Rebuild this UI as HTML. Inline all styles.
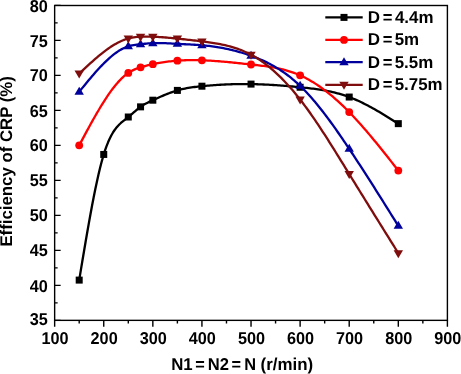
<!DOCTYPE html>
<html><head><meta charset="utf-8"><title>Efficiency of CRP</title>
<style>
html,body{margin:0;padding:0;background:#fff;}
svg{display:block;will-change:transform;}
text{font-family:"Liberation Sans",Arial,Helvetica,sans-serif;font-weight:bold;fill:#000;text-rendering:geometricPrecision;}
</style></head><body>
<svg width="461" height="374" viewBox="0 0 461 374">
<rect width="461" height="374" fill="#fff"/>
<path d="M79.20,280.10 L80.80,270.42 L82.40,260.77 L84.01,251.20 L85.61,241.74 L87.21,232.44 L88.82,223.33 L90.42,214.44 L92.03,205.82 L93.63,197.50 L95.23,189.52 L96.84,181.93 L98.44,174.75 L100.04,168.02 L101.65,161.79 L103.25,156.09 L104.85,150.96 L106.46,146.37 L108.06,142.30 L109.66,138.69 L111.27,135.51 L112.87,132.71 L114.48,130.25 L116.08,128.09 L117.68,126.19 L119.29,124.50 L120.89,122.98 L122.49,121.59 L124.10,120.29 L125.70,119.04 L127.30,117.79 L128.91,116.50 L130.51,115.15 L132.11,113.78 L133.72,112.39 L135.32,111.01 L136.93,109.66 L138.53,108.37 L140.13,107.16 L141.74,106.04 L143.34,105.02 L144.94,104.09 L146.55,103.22 L148.15,102.40 L149.75,101.63 L151.36,100.88 L152.96,100.14 L154.56,99.41 L156.17,98.68 L157.77,97.96 L159.38,97.25 L160.98,96.54 L162.58,95.85 L164.19,95.17 L165.79,94.51 L167.39,93.86 L169.00,93.24 L170.60,92.64 L172.20,92.06 L173.81,91.51 L175.41,91.00 L177.01,90.51 L178.62,90.05 L180.22,89.63 L181.83,89.24 L183.43,88.88 L185.03,88.55 L186.64,88.24 L188.24,87.95 L189.84,87.69 L191.45,87.44 L193.05,87.22 L194.65,87.01 L196.26,86.81 L197.86,86.63 L199.46,86.45 L201.07,86.29 L202.67,86.13 L204.27,85.97 L205.88,85.83 L207.48,85.69 L209.09,85.55 L210.69,85.42 L212.29,85.29 L213.90,85.18 L215.50,85.06 L217.10,84.96 L218.71,84.85 L220.31,84.76 L221.91,84.67 L223.52,84.59 L225.12,84.51 L226.72,84.44 L228.33,84.37 L229.93,84.31 L231.54,84.26 L233.14,84.21 L234.74,84.17 L236.35,84.13 L237.95,84.10 L239.55,84.08 L241.16,84.07 L242.76,84.05 L244.36,84.05 L245.97,84.05 L247.57,84.06 L249.17,84.08 L250.78,84.10 L252.38,84.12 L253.99,84.16 L255.59,84.20 L257.19,84.24 L258.80,84.29 L260.40,84.35 L262.00,84.41 L263.61,84.48 L265.21,84.56 L266.81,84.64 L268.42,84.72 L270.02,84.81 L271.62,84.90 L273.23,85.00 L274.83,85.11 L276.44,85.21 L278.04,85.33 L279.64,85.44 L281.25,85.56 L282.85,85.69 L284.45,85.82 L286.06,85.95 L287.66,86.09 L289.26,86.23 L290.87,86.37 L292.47,86.51 L294.07,86.66 L295.68,86.81 L297.28,86.97 L298.89,87.13 L300.49,87.29 L302.09,87.45 L303.70,87.62 L305.30,87.79 L306.90,87.96 L308.51,88.14 L310.11,88.33 L311.71,88.53 L313.32,88.73 L314.92,88.94 L316.52,89.16 L318.13,89.40 L319.73,89.64 L321.34,89.89 L322.94,90.16 L324.54,90.44 L326.15,90.74 L327.75,91.05 L329.35,91.38 L330.96,91.72 L332.56,92.08 L334.16,92.46 L335.77,92.86 L337.37,93.28 L338.97,93.72 L340.58,94.18 L342.18,94.66 L343.79,95.16 L345.39,95.69 L346.99,96.24 L348.60,96.82 L350.20,97.42 L351.80,98.05 L353.41,98.71 L355.01,99.39 L356.61,100.09 L358.22,100.81 L359.82,101.56 L361.42,102.32 L363.03,103.11 L364.63,103.91 L366.23,104.74 L367.84,105.58 L369.44,106.43 L371.05,107.30 L372.65,108.19 L374.25,109.09 L375.86,110.00 L377.46,110.93 L379.06,111.86 L380.67,112.81 L382.27,113.76 L383.87,114.73 L385.48,115.70 L387.08,116.68 L388.68,117.66 L390.29,118.65 L391.89,119.65 L393.50,120.65 L395.10,121.65 L396.70,122.65 L398.31,123.65" fill="none" stroke="#000000" stroke-width="2.3" stroke-linejoin="round"/>
<rect x="75.70" y="276.60" width="7.0" height="7.0" fill="#000000"/>
<rect x="100.24" y="150.95" width="7.0" height="7.0" fill="#000000"/>
<rect x="124.79" y="113.50" width="7.0" height="7.0" fill="#000000"/>
<rect x="137.06" y="103.35" width="7.0" height="7.0" fill="#000000"/>
<rect x="149.34" y="96.70" width="7.0" height="7.0" fill="#000000"/>
<rect x="173.88" y="86.90" width="7.0" height="7.0" fill="#000000"/>
<rect x="198.43" y="82.70" width="7.0" height="7.0" fill="#000000"/>
<rect x="247.53" y="80.60" width="7.0" height="7.0" fill="#000000"/>
<rect x="296.62" y="83.75" width="7.0" height="7.0" fill="#000000"/>
<rect x="345.71" y="93.55" width="7.0" height="7.0" fill="#000000"/>
<rect x="394.81" y="120.15" width="7.0" height="7.0" fill="#000000"/>
<path d="M79.20,145.35 L80.80,142.34 L82.40,139.34 L84.01,136.35 L85.61,133.37 L87.21,130.40 L88.82,127.46 L90.42,124.54 L92.03,121.65 L93.63,118.79 L95.23,115.97 L96.84,113.19 L98.44,110.46 L100.04,107.77 L101.65,105.14 L103.25,102.56 L104.85,100.05 L106.46,97.60 L108.06,95.22 L109.66,92.91 L111.27,90.69 L112.87,88.54 L114.48,86.48 L116.08,84.51 L117.68,82.64 L119.29,80.86 L120.89,79.19 L122.49,77.62 L124.10,76.16 L125.70,74.82 L127.30,73.59 L128.91,72.49 L130.51,71.51 L132.11,70.64 L133.72,69.86 L135.32,69.16 L136.93,68.53 L138.53,67.96 L140.13,67.44 L141.74,66.94 L143.34,66.47 L144.94,66.03 L146.55,65.61 L148.15,65.21 L149.75,64.83 L151.36,64.47 L152.96,64.12 L154.56,63.79 L156.17,63.48 L157.77,63.17 L159.38,62.89 L160.98,62.61 L162.58,62.35 L164.19,62.11 L165.79,61.88 L167.39,61.67 L169.00,61.46 L170.60,61.28 L172.20,61.11 L173.81,60.95 L175.41,60.81 L177.01,60.68 L178.62,60.56 L180.22,60.46 L181.83,60.38 L183.43,60.31 L185.03,60.25 L186.64,60.20 L188.24,60.16 L189.84,60.14 L191.45,60.13 L193.05,60.13 L194.65,60.14 L196.26,60.16 L197.86,60.19 L199.46,60.22 L201.07,60.27 L202.67,60.33 L204.27,60.39 L205.88,60.46 L207.48,60.54 L209.09,60.62 L210.69,60.72 L212.29,60.81 L213.90,60.92 L215.50,61.03 L217.10,61.15 L218.71,61.27 L220.31,61.40 L221.91,61.53 L223.52,61.67 L225.12,61.81 L226.72,61.96 L228.33,62.11 L229.93,62.26 L231.54,62.42 L233.14,62.58 L234.74,62.74 L236.35,62.91 L237.95,63.08 L239.55,63.25 L241.16,63.42 L242.76,63.59 L244.36,63.77 L245.97,63.94 L247.57,64.12 L249.17,64.30 L250.78,64.47 L252.38,64.65 L253.99,64.83 L255.59,65.01 L257.19,65.19 L258.80,65.38 L260.40,65.57 L262.00,65.77 L263.61,65.98 L265.21,66.19 L266.81,66.42 L268.42,66.66 L270.02,66.91 L271.62,67.17 L273.23,67.45 L274.83,67.74 L276.44,68.05 L278.04,68.38 L279.64,68.73 L281.25,69.10 L282.85,69.49 L284.45,69.90 L286.06,70.33 L287.66,70.79 L289.26,71.28 L290.87,71.79 L292.47,72.34 L294.07,72.91 L295.68,73.51 L297.28,74.15 L298.89,74.81 L300.49,75.51 L302.09,76.25 L303.70,77.02 L305.30,77.83 L306.90,78.67 L308.51,79.54 L310.11,80.45 L311.71,81.39 L313.32,82.36 L314.92,83.36 L316.52,84.40 L318.13,85.47 L319.73,86.57 L321.34,87.70 L322.94,88.87 L324.54,90.06 L326.15,91.29 L327.75,92.54 L329.35,93.82 L330.96,95.14 L332.56,96.48 L334.16,97.86 L335.77,99.26 L337.37,100.69 L338.97,102.15 L340.58,103.63 L342.18,105.15 L343.79,106.69 L345.39,108.25 L346.99,109.85 L348.60,111.47 L350.20,113.12 L351.80,114.79 L353.41,116.49 L355.01,118.21 L356.61,119.95 L358.22,121.72 L359.82,123.50 L361.42,125.31 L363.03,127.14 L364.63,128.98 L366.23,130.85 L367.84,132.73 L369.44,134.62 L371.05,136.54 L372.65,138.46 L374.25,140.40 L375.86,142.35 L377.46,144.32 L379.06,146.29 L380.67,148.28 L382.27,150.27 L383.87,152.28 L385.48,154.29 L387.08,156.31 L388.68,158.33 L390.29,160.36 L391.89,162.39 L393.50,164.43 L395.10,166.47 L396.70,168.51 L398.31,170.55" fill="none" stroke="#ff0000" stroke-width="2.3" stroke-linejoin="round"/>
<circle cx="79.20" cy="145.35" r="3.9" fill="#ff0000"/>
<circle cx="128.29" cy="72.90" r="3.9" fill="#ff0000"/>
<circle cx="140.56" cy="67.30" r="3.9" fill="#ff0000"/>
<circle cx="152.84" cy="64.15" r="3.9" fill="#ff0000"/>
<circle cx="177.38" cy="60.65" r="3.9" fill="#ff0000"/>
<circle cx="201.93" cy="60.30" r="3.9" fill="#ff0000"/>
<circle cx="251.03" cy="64.50" r="3.9" fill="#ff0000"/>
<circle cx="300.12" cy="75.35" r="3.9" fill="#ff0000"/>
<circle cx="349.21" cy="112.10" r="3.9" fill="#ff0000"/>
<circle cx="398.31" cy="170.55" r="3.9" fill="#ff0000"/>
<path d="M79.20,91.80 L80.80,89.83 L82.40,87.86 L84.01,85.90 L85.61,83.94 L87.21,82.00 L88.82,80.08 L90.42,78.17 L92.03,76.28 L93.63,74.42 L95.23,72.59 L96.84,70.79 L98.44,69.02 L100.04,67.30 L101.65,65.61 L103.25,63.96 L104.85,62.36 L106.46,60.81 L108.06,59.32 L109.66,57.88 L111.27,56.50 L112.87,55.18 L114.48,53.93 L116.08,52.74 L117.68,51.63 L119.29,50.59 L120.89,49.63 L122.49,48.75 L124.10,47.96 L125.70,47.25 L127.30,46.63 L128.91,46.11 L130.51,45.68 L132.11,45.32 L133.72,45.03 L135.32,44.78 L136.93,44.58 L138.53,44.41 L140.13,44.24 L141.74,44.08 L143.34,43.92 L144.94,43.76 L146.55,43.61 L148.15,43.46 L149.75,43.34 L151.36,43.23 L152.96,43.14 L154.56,43.08 L156.17,43.05 L157.77,43.03 L159.38,43.04 L160.98,43.06 L162.58,43.10 L164.19,43.15 L165.79,43.22 L167.39,43.29 L169.00,43.37 L170.60,43.46 L172.20,43.55 L173.81,43.65 L175.41,43.74 L177.01,43.83 L178.62,43.92 L180.22,44.00 L181.83,44.08 L183.43,44.15 L185.03,44.23 L186.64,44.31 L188.24,44.38 L189.84,44.46 L191.45,44.55 L193.05,44.63 L194.65,44.73 L196.26,44.83 L197.86,44.93 L199.46,45.05 L201.07,45.18 L202.67,45.31 L204.27,45.46 L205.88,45.62 L207.48,45.80 L209.09,45.98 L210.69,46.18 L212.29,46.39 L213.90,46.61 L215.50,46.85 L217.10,47.10 L218.71,47.36 L220.31,47.63 L221.91,47.92 L223.52,48.23 L225.12,48.54 L226.72,48.87 L228.33,49.22 L229.93,49.58 L231.54,49.95 L233.14,50.34 L234.74,50.75 L236.35,51.17 L237.95,51.60 L239.55,52.05 L241.16,52.52 L242.76,53.00 L244.36,53.50 L245.97,54.02 L247.57,54.55 L249.17,55.10 L250.78,55.66 L252.38,56.24 L253.99,56.84 L255.59,57.46 L257.19,58.10 L258.80,58.76 L260.40,59.44 L262.00,60.14 L263.61,60.87 L265.21,61.62 L266.81,62.40 L268.42,63.20 L270.02,64.03 L271.62,64.89 L273.23,65.78 L274.83,66.69 L276.44,67.64 L278.04,68.62 L279.64,69.63 L281.25,70.68 L282.85,71.76 L284.45,72.88 L286.06,74.03 L287.66,75.22 L289.26,76.45 L290.87,77.72 L292.47,79.03 L294.07,80.38 L295.68,81.77 L297.28,83.20 L298.89,84.68 L300.49,86.21 L302.09,87.77 L303.70,89.39 L305.30,91.04 L306.90,92.74 L308.51,94.48 L310.11,96.26 L311.71,98.08 L313.32,99.93 L314.92,101.82 L316.52,103.75 L318.13,105.71 L319.73,107.70 L321.34,109.73 L322.94,111.79 L324.54,113.87 L326.15,115.98 L327.75,118.13 L329.35,120.29 L330.96,122.49 L332.56,124.70 L334.16,126.94 L335.77,129.20 L337.37,131.48 L338.97,133.78 L340.58,136.10 L342.18,138.44 L343.79,140.79 L345.39,143.15 L346.99,145.53 L348.60,147.93 L350.20,150.33 L351.80,152.75 L353.41,155.17 L355.01,157.61 L356.61,160.05 L358.22,162.51 L359.82,164.97 L361.42,167.44 L363.03,169.92 L364.63,172.41 L366.23,174.91 L367.84,177.41 L369.44,179.92 L371.05,182.43 L372.65,184.96 L374.25,187.48 L375.86,190.02 L377.46,192.56 L379.06,195.10 L380.67,197.65 L382.27,200.20 L383.87,202.75 L385.48,205.31 L387.08,207.87 L388.68,210.44 L390.29,213.00 L391.89,215.57 L393.50,218.14 L395.10,220.71 L396.70,223.28 L398.31,225.85" fill="none" stroke="#00009c" stroke-width="2.3" stroke-linejoin="round"/>
<polygon points="79.20,86.80 74.50,94.80 83.90,94.80" fill="#00009c"/>
<polygon points="128.29,41.30 123.59,49.30 132.99,49.30" fill="#00009c"/>
<polygon points="140.56,39.20 135.86,47.20 145.26,47.20" fill="#00009c"/>
<polygon points="152.84,38.15 148.14,46.15 157.54,46.15" fill="#00009c"/>
<polygon points="177.38,38.85 172.68,46.85 182.08,46.85" fill="#00009c"/>
<polygon points="201.93,40.25 197.23,48.25 206.63,48.25" fill="#00009c"/>
<polygon points="251.03,50.75 246.33,58.75 255.72,58.75" fill="#00009c"/>
<polygon points="300.12,80.85 295.42,88.85 304.82,88.85" fill="#00009c"/>
<polygon points="349.21,143.85 344.51,151.85 353.91,151.85" fill="#00009c"/>
<polygon points="398.31,220.85 393.61,228.85 403.01,228.85" fill="#00009c"/>
<path d="M79.20,73.60 L80.80,72.10 L82.40,70.60 L84.01,69.10 L85.61,67.61 L87.21,66.13 L88.82,64.66 L90.42,63.21 L92.03,61.77 L93.63,60.35 L95.23,58.95 L96.84,57.57 L98.44,56.22 L100.04,54.89 L101.65,53.60 L103.25,52.34 L104.85,51.11 L106.46,49.91 L108.06,48.76 L109.66,47.64 L111.27,46.57 L112.87,45.55 L114.48,44.57 L116.08,43.64 L117.68,42.77 L119.29,41.95 L120.89,41.18 L122.49,40.48 L124.10,39.84 L125.70,39.26 L127.30,38.74 L128.91,38.30 L130.51,37.92 L132.11,37.60 L133.72,37.34 L135.32,37.13 L136.93,36.96 L138.53,36.83 L140.13,36.73 L141.74,36.66 L143.34,36.61 L144.94,36.59 L146.55,36.58 L148.15,36.59 L149.75,36.62 L151.36,36.66 L152.96,36.71 L154.56,36.78 L156.17,36.86 L157.77,36.95 L159.38,37.04 L160.98,37.15 L162.58,37.26 L164.19,37.38 L165.79,37.51 L167.39,37.65 L169.00,37.79 L170.60,37.93 L172.20,38.09 L173.81,38.24 L175.41,38.40 L177.01,38.56 L178.62,38.73 L180.22,38.89 L181.83,39.06 L183.43,39.24 L185.03,39.41 L186.64,39.59 L188.24,39.77 L189.84,39.95 L191.45,40.13 L193.05,40.32 L194.65,40.51 L196.26,40.70 L197.86,40.89 L199.46,41.09 L201.07,41.29 L202.67,41.49 L204.27,41.70 L205.88,41.91 L207.48,42.12 L209.09,42.35 L210.69,42.58 L212.29,42.82 L213.90,43.07 L215.50,43.33 L217.10,43.61 L218.71,43.90 L220.31,44.20 L221.91,44.52 L223.52,44.86 L225.12,45.22 L226.72,45.60 L228.33,46.00 L229.93,46.42 L231.54,46.87 L233.14,47.34 L234.74,47.84 L236.35,48.37 L237.95,48.93 L239.55,49.51 L241.16,50.13 L242.76,50.78 L244.36,51.47 L245.97,52.19 L247.57,52.94 L249.17,53.74 L250.78,54.57 L252.38,55.44 L253.99,56.35 L255.59,57.31 L257.19,58.30 L258.80,59.33 L260.40,60.40 L262.00,61.52 L263.61,62.67 L265.21,63.86 L266.81,65.09 L268.42,66.36 L270.02,67.67 L271.62,69.02 L273.23,70.41 L274.83,71.84 L276.44,73.31 L278.04,74.81 L279.64,76.36 L281.25,77.94 L282.85,79.57 L284.45,81.23 L286.06,82.93 L287.66,84.67 L289.26,86.45 L290.87,88.27 L292.47,90.12 L294.07,92.02 L295.68,93.95 L297.28,95.92 L298.89,97.93 L300.49,99.98 L302.09,102.06 L303.70,104.18 L305.30,106.34 L306.90,108.53 L308.51,110.75 L310.11,113.01 L311.71,115.29 L313.32,117.60 L314.92,119.94 L316.52,122.31 L318.13,124.70 L319.73,127.11 L321.34,129.55 L322.94,132.01 L324.54,134.48 L326.15,136.98 L327.75,139.49 L329.35,142.01 L330.96,144.55 L332.56,147.11 L334.16,149.67 L335.77,152.25 L337.37,154.83 L338.97,157.42 L340.58,160.02 L342.18,162.62 L343.79,165.22 L345.39,167.83 L346.99,170.44 L348.60,173.05 L350.20,175.65 L351.80,178.26 L353.41,180.86 L355.01,183.46 L356.61,186.06 L358.22,188.65 L359.82,191.25 L361.42,193.84 L363.03,196.43 L364.63,199.02 L366.23,201.61 L367.84,204.19 L369.44,206.78 L371.05,209.36 L372.65,211.94 L374.25,214.53 L375.86,217.11 L377.46,219.68 L379.06,222.26 L380.67,224.84 L382.27,227.42 L383.87,229.99 L385.48,232.57 L387.08,235.14 L388.68,237.71 L390.29,240.29 L391.89,242.86 L393.50,245.43 L395.10,248.01 L396.70,250.58 L398.31,253.15" fill="none" stroke="#7f0d0d" stroke-width="2.3" stroke-linejoin="round"/>
<polygon points="79.20,78.60 74.50,70.60 83.90,70.60" fill="#7f0d0d"/>
<polygon points="128.29,43.46 123.59,35.46 132.99,35.46" fill="#7f0d0d"/>
<polygon points="140.56,41.71 135.86,33.71 145.26,33.71" fill="#7f0d0d"/>
<polygon points="152.84,41.71 148.14,33.71 157.54,33.71" fill="#7f0d0d"/>
<polygon points="177.38,43.60 172.68,35.60 182.08,35.60" fill="#7f0d0d"/>
<polygon points="201.93,46.40 197.23,38.40 206.63,38.40" fill="#7f0d0d"/>
<polygon points="251.03,59.70 246.33,51.70 255.72,51.70" fill="#7f0d0d"/>
<polygon points="300.12,104.50 295.42,96.50 304.82,96.50" fill="#7f0d0d"/>
<polygon points="349.21,179.05 344.51,171.05 353.91,171.05" fill="#7f0d0d"/>
<polygon points="398.31,258.15 393.61,250.15 403.01,250.15" fill="#7f0d0d"/>
<rect x="54.65" y="5.5" width="392.75" height="314.85" fill="none" stroke="#000" stroke-width="1.4"/>
<path d="M54.65,320.35 v6.3 M79.20,320.35 v3.2 M103.74,320.35 v6.3 M128.29,320.35 v3.2 M152.84,320.35 v6.3 M177.38,320.35 v3.2 M201.93,320.35 v6.3 M226.48,320.35 v3.2 M251.03,320.35 v6.3 M275.57,320.35 v3.2 M300.12,320.35 v6.3 M324.67,320.35 v3.2 M349.21,320.35 v6.3 M373.76,320.35 v3.2 M398.31,320.35 v6.3 M422.85,320.35 v3.2 M447.40,320.35 v6.3 M54.65,320.35 h6 M54.65,302.85 h3 M54.65,285.35 h6 M54.65,267.85 h3 M54.65,250.35 h6 M54.65,232.85 h3 M54.65,215.35 h6 M54.65,197.85 h3 M54.65,180.35 h6 M54.65,162.85 h3 M54.65,145.35 h6 M54.65,127.85 h3 M54.65,110.35 h6 M54.65,92.85 h3 M54.65,75.35 h6 M54.65,57.85 h3 M54.65,40.35 h6 M54.65,22.85 h3 M54.65,5.35 h6" stroke="#000" stroke-width="1.4" fill="none"/>
<text transform="translate(55.05,343.80) scale(0.9450,1)" font-size="17.2" text-anchor="middle">100</text>
<text transform="translate(104.14,343.80) scale(0.9450,1)" font-size="17.2" text-anchor="middle">200</text>
<text transform="translate(153.24,343.80) scale(0.9450,1)" font-size="17.2" text-anchor="middle">300</text>
<text transform="translate(202.33,343.80) scale(0.9450,1)" font-size="17.2" text-anchor="middle">400</text>
<text transform="translate(251.43,343.80) scale(0.9450,1)" font-size="17.2" text-anchor="middle">500</text>
<text transform="translate(300.52,343.80) scale(0.9450,1)" font-size="17.2" text-anchor="middle">600</text>
<text transform="translate(349.61,343.80) scale(0.9450,1)" font-size="17.2" text-anchor="middle">700</text>
<text transform="translate(398.71,343.80) scale(0.9450,1)" font-size="17.2" text-anchor="middle">800</text>
<text transform="translate(447.80,343.80) scale(0.9450,1)" font-size="17.2" text-anchor="middle">900</text>
<text transform="translate(47.90,325.35) scale(0.9450,1)" font-size="17.2" text-anchor="end">35</text>
<text transform="translate(47.90,291.55) scale(0.9450,1)" font-size="17.2" text-anchor="end">40</text>
<text transform="translate(47.90,256.15) scale(0.9450,1)" font-size="17.2" text-anchor="end">45</text>
<text transform="translate(47.90,221.15) scale(0.9450,1)" font-size="17.2" text-anchor="end">50</text>
<text transform="translate(47.90,186.15) scale(0.9450,1)" font-size="17.2" text-anchor="end">55</text>
<text transform="translate(47.90,151.15) scale(0.9450,1)" font-size="17.2" text-anchor="end">60</text>
<text transform="translate(47.90,116.65) scale(0.9450,1)" font-size="17.2" text-anchor="end">65</text>
<text transform="translate(47.90,81.45) scale(0.9450,1)" font-size="17.2" text-anchor="end">70</text>
<text transform="translate(47.90,47.15) scale(0.9450,1)" font-size="17.2" text-anchor="end">75</text>
<text transform="translate(47.90,12.25) scale(0.9450,1)" font-size="17.2" text-anchor="end">80</text>
<text y="369.50" font-size="17.2"><tspan x="171.19" textLength="21.48" lengthAdjust="spacingAndGlyphs">N1</tspan> <tspan x="195.13" textLength="9.52" lengthAdjust="spacingAndGlyphs">=</tspan> <tspan x="207.70" textLength="21.22" lengthAdjust="spacingAndGlyphs">N2</tspan> <tspan x="231.53" textLength="9.52" lengthAdjust="spacingAndGlyphs">=</tspan> <tspan x="244.22" textLength="11.84" lengthAdjust="spacingAndGlyphs">N</tspan> <tspan x="260.57" textLength="52.57" lengthAdjust="spacingAndGlyphs">(r/min)</tspan></text>
<text transform="translate(12.35,246.60) rotate(-90) scale(0.9940,1)" font-size="16.9" text-anchor="start">Efficiency of CRP (%)</text>
<path d="M325.3,17.4 H362.7" stroke="#000000" stroke-width="2.3" fill="none"/>
<rect x="340.50" y="13.90" width="7.0" height="7.0" fill="#000000"/>
<text y="22.90" font-size="17.2"><tspan x="367.78" textLength="12.28" lengthAdjust="spacingAndGlyphs">D</tspan> <tspan x="382.72" textLength="9.69" lengthAdjust="spacingAndGlyphs">=</tspan> <tspan x="394.95" textLength="38.52" lengthAdjust="spacingAndGlyphs">4.4m</tspan></text>
<path d="M325.3,39.9 H362.7" stroke="#ff0000" stroke-width="2.3" fill="none"/>
<circle cx="344.00" cy="39.90" r="3.9" fill="#ff0000"/>
<text y="45.40" font-size="17.2"><tspan x="367.78" textLength="12.28" lengthAdjust="spacingAndGlyphs">D</tspan> <tspan x="382.72" textLength="9.69" lengthAdjust="spacingAndGlyphs">=</tspan> <tspan x="394.69" textLength="24.43" lengthAdjust="spacingAndGlyphs">5m</tspan></text>
<path d="M325.3,62.2 H362.7" stroke="#00009c" stroke-width="2.3" fill="none"/>
<polygon points="344.00,57.20 339.30,65.20 348.70,65.20" fill="#00009c"/>
<text y="67.70" font-size="17.2"><tspan x="367.78" textLength="12.28" lengthAdjust="spacingAndGlyphs">D</tspan> <tspan x="382.72" textLength="9.69" lengthAdjust="spacingAndGlyphs">=</tspan> <tspan x="394.69" textLength="38.52" lengthAdjust="spacingAndGlyphs">5.5m</tspan></text>
<path d="M325.3,84.8 H362.7" stroke="#7f0d0d" stroke-width="2.3" fill="none"/>
<polygon points="344.00,89.80 339.30,81.80 348.70,81.80" fill="#7f0d0d"/>
<text y="90.30" font-size="17.2"><tspan x="367.78" textLength="12.28" lengthAdjust="spacingAndGlyphs">D</tspan> <tspan x="382.72" textLength="9.69" lengthAdjust="spacingAndGlyphs">=</tspan> <tspan x="394.69" textLength="47.92" lengthAdjust="spacingAndGlyphs">5.75m</tspan></text>
</svg></body></html>
